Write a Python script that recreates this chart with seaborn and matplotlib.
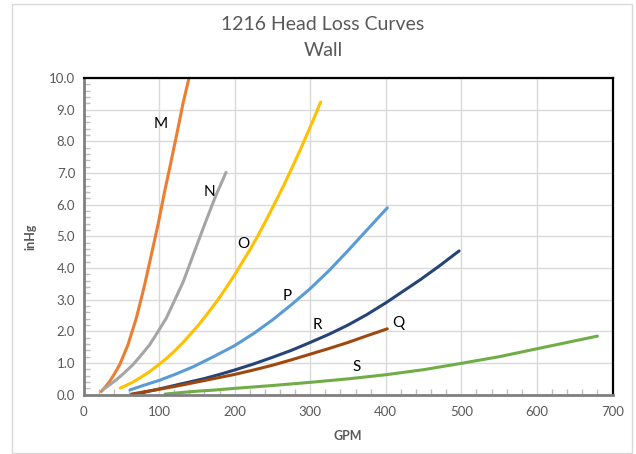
import matplotlib
matplotlib.use("Agg")
import matplotlib.pyplot as plt
import seaborn as sns
import pandas as pd
from matplotlib.ticker import MultipleLocator, FormatStrFormatter
from matplotlib.patches import Rectangle

sns.set_theme(style="white")
plt.rcParams['font.family'] = ['Lato', 'DejaVu Sans']

# Data
m_x = [23.6, 29, 34.6, 41, 47.9, 53, 58.9, 64, 69.9, 75, 80.9, 89.8, 98.6, 107.4, 116.2, 125.1, 131.7, 139.6]
m_y = [0.10, 0.25, 0.42, 0.66, 0.95, 1.24, 1.58, 1.97, 2.42, 2.90, 3.47, 4.42, 5.37, 6.42, 7.40, 8.42, 9.20, 10.0]
n_x = [25.8, 34, 43.4, 54, 65.5, 76, 87.6, 98, 109.6, 120, 131.7, 140, 149.3, 162.6, 175, 188.6]
n_y = [0.16, 0.30, 0.47, 0.69, 0.95, 1.24, 1.58, 1.97, 2.42, 2.95, 3.55, 4.08, 4.68, 5.52, 6.28, 7.02]
o_x = [48.7, 57, 65.5, 76, 87.6, 98, 109.6, 120, 131.7, 143, 154.2, 165, 176.2, 188, 200.4, 210, 220.3, 231, 242.3, 253, 264.4, 275, 286.4, 295, 304.1, 313.8]
o_y = [0.21, 0.30, 0.40, 0.55, 0.73, 0.92, 1.14, 1.37, 1.65, 1.95, 2.26, 2.59, 2.94, 3.35, 3.80, 4.18, 4.58, 5.03, 5.54, 6.04, 6.58, 7.12, 7.71, 8.18, 8.68, 9.24]
p_x = [61.5, 80, 100, 122, 145, 172, 200, 225, 250, 275, 300, 325, 350, 375, 402]
p_y = [0.15, 0.30, 0.45, 0.65, 0.88, 1.20, 1.55, 1.93, 2.36, 2.84, 3.35, 3.92, 4.55, 5.20, 5.90]
r_x = [76.7, 100, 120, 140, 160, 180, 200, 225, 250, 275, 300, 325, 350, 375, 400, 445, 470, 497]
r_y = [0.06, 0.18, 0.29, 0.40, 0.51, 0.64, 0.78, 0.97, 1.18, 1.40, 1.65, 1.91, 2.20, 2.53, 2.90, 3.62, 4.05, 4.54]
q_x = [63.5, 80, 100, 125, 150, 175, 200, 225, 250, 275, 300, 325, 350, 375, 402]
q_y = [0.02, 0.09, 0.17, 0.28, 0.40, 0.52, 0.64, 0.78, 0.93, 1.10, 1.28, 1.46, 1.65, 1.86, 2.08]
s_x = [108, 130, 150, 175, 200, 250, 300, 350, 400, 450, 500, 550, 600, 640, 680]
s_y = [0.02, 0.07, 0.11, 0.15, 0.20, 0.29, 0.39, 0.50, 0.63, 0.79, 0.99, 1.20, 1.45, 1.65, 1.85]

curve_names = ["M", "N", "O", "P", "R", "Q", "S"]
curve_colors = ["#ED7D31", "#A5A5A5", "#FFC000", "#5B9BD5", "#264478", "#9E480E", "#70AD47"]
label_x = [102, 166, 211, 270, 310, 416, 362]
label_y = [8.54, 6.39, 4.75, 3.13, 2.2, 2.25, 0.88]

xs = [m_x, n_x, o_x, p_x, r_x, q_x, s_x]
ys = [m_y, n_y, o_y, p_y, r_y, q_y, s_y]
rows = []
for name, xv, yv in zip(curve_names, xs, ys):
    for a, b in zip(xv, yv):
        rows.append({"curve": name, "GPM": a, "inHg": b})
df = pd.DataFrame(rows)

fig = plt.figure(figsize=(6.36, 4.54), dpi=100)
fig.patch.set_facecolor("white")
fig.patches.append(Rectangle((12/636, 1-453/454), 620/636, 449/454, transform=fig.transFigure,
                             fill=False, edgecolor="#D9D9D9", linewidth=1.0))
ax = fig.add_axes([83.5/636, 1-394.7/454, (612.5-83.5)/636, (394.7-78)/454])

sns.lineplot(data=df, x="GPM", y="inHg", hue="curve", palette=dict(zip(curve_names, curve_colors)),
             hue_order=curve_names, linewidth=2.2, legend=False, ax=ax, sort=True)
for ln in ax.get_lines():
    ln.set_solid_capstyle("round")
    ln.set_solid_joinstyle("round")

for name, lx, ly in zip(curve_names, label_x, label_y):
    ax.text(lx, ly, name, fontsize=11, ha="center", va="center", color="black")

ax.set_xlim(0, 700)
ax.set_ylim(0, 10)
ax.xaxis.set_major_locator(MultipleLocator(100))
ax.xaxis.set_minor_locator(MultipleLocator(20))
ax.yaxis.set_major_locator(MultipleLocator(1))
ax.yaxis.set_minor_locator(MultipleLocator(0.2))
ax.yaxis.set_major_formatter(FormatStrFormatter("%.1f"))
ax.grid(True, which="major", color="#D9D9D9", linewidth=1.0)
ax.set_axisbelow(True)
ax.tick_params(axis="both", which="major", labelsize=9.5, labelcolor="#595959", length=0)
ax.tick_params(axis="x", which="major", pad=8)
ax.tick_params(axis="y", which="major", pad=6)
ax.tick_params(axis="both", which="minor", direction="in", length=4, color="#BFBFBF", width=1)
ax.tick_params(axis="both", which="minor", bottom=True, left=True)

for side in ["top", "right"]:
    ax.spines[side].set_color("black")
    ax.spines[side].set_linewidth(1.6)
for side in ["left", "bottom"]:
    ax.spines[side].set_color("#808080")
    ax.spines[side].set_linewidth(2.0)

ax.set_xlabel("GPM", fontsize=9, fontweight="bold", color="#595959", labelpad=9)
ax.set_ylabel("inHg", fontsize=9, fontweight="bold", color="#595959", labelpad=9)

fig.text(323/636, 1-25/454, "1216 Head Loss Curves", ha="center", va="center", fontsize=14, color="#595959")
fig.text(323/636, 1-51/454, "Wall", ha="center", va="center", fontsize=14, color="#595959")

fig.savefig("out.png", dpi=100, facecolor="white")
